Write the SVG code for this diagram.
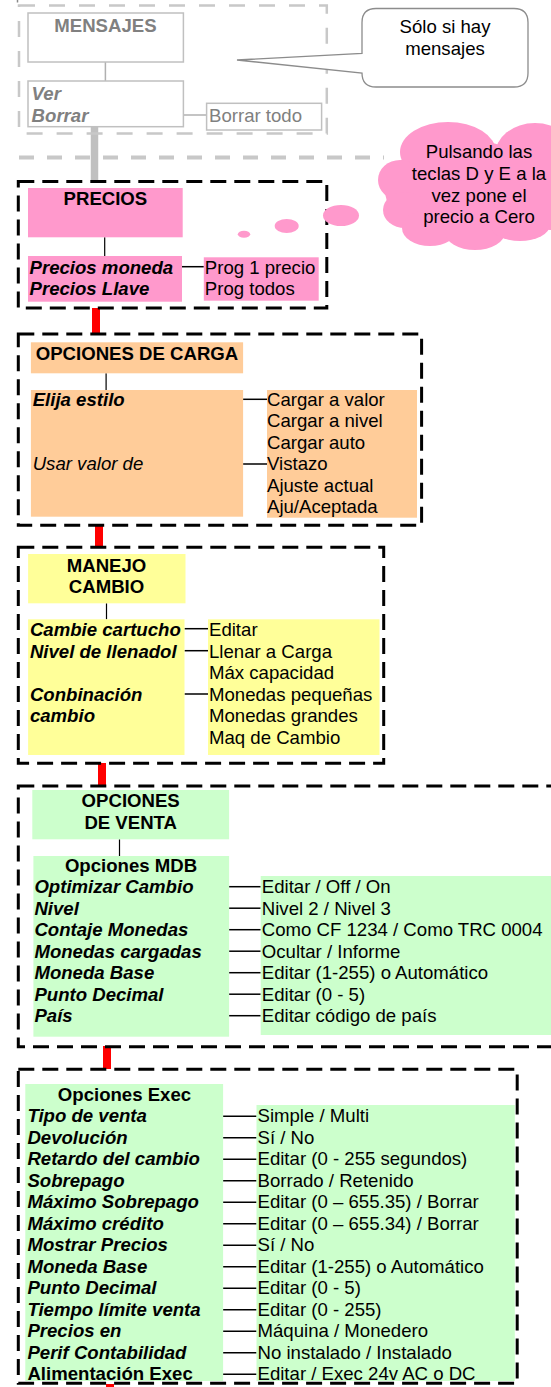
<svg xmlns="http://www.w3.org/2000/svg" width="551" height="1387" viewBox="0 0 551 1387">
<style>
.t{font-family:"Liberation Sans",Arial,sans-serif;font-size:18.6px;fill:#000}
.b{font-weight:bold}
.i{font-style:italic}
.g{fill:#808080}
.c{text-anchor:middle}
.gbox{fill:#fff;stroke:#c0c0c0;stroke-width:1.5}
.gdash{fill:none;stroke:#c8c8c8;stroke-width:2.5;stroke-dasharray:16 14}
.bdash{fill:none;stroke:#000;stroke-width:3;stroke-dasharray:16 8}
.ln{stroke:#000;stroke-width:1.5;fill:none}
.vl{stroke:#000;stroke-width:1.2;fill:none}
.gl{stroke:#b0b0b0;stroke-width:1.5;fill:none}
.red{stroke:#f00;stroke-width:8;fill:none}
.pink{fill:#ff99cc}
.peach{fill:#ffcc99}
.yel{fill:#ffff99}
.grn{fill:#ccffcc}
</style>

<g id="connectors">
  <line x1="17.5" y1="0" x2="17.5" y2="2.5" stroke="#888" stroke-width="1.5"/>
  <line class="gl" x1="105.4" y1="62" x2="105.4" y2="81"/>
  <line class="gl" x1="183.4" y1="115" x2="206.6" y2="115"/>
  <line x1="19" y1="157.5" x2="384" y2="157.5" stroke="#c8c8c8" stroke-width="4" stroke-dasharray="15 13"/>
  <line x1="94.5" y1="124" x2="94.5" y2="181" stroke="#c0c0c0" stroke-width="7.5"/>
  <line class="vl" x1="104.7" y1="237.3" x2="104.7" y2="256"/>
  <line class="ln" x1="182" y1="266.7" x2="203.8" y2="266.7"/>
  <line class="red" x1="96" y1="308" x2="96" y2="334"/>
  <line class="vl" x1="106.1" y1="373.3" x2="106.1" y2="390"/>
  <line class="ln" x1="243.1" y1="399.3" x2="267" y2="399.3"/>
  <line class="ln" x1="243.1" y1="464" x2="267" y2="464"/>
  <line class="red" x1="99" y1="525" x2="99" y2="547"/>
  <line class="vl" x1="106.5" y1="603.3" x2="106.5" y2="619.3"/>
  <line class="ln" x1="184.5" y1="628.7" x2="208" y2="628.7"/>
  <line class="ln" x1="184.5" y1="650.7" x2="208" y2="650.7"/>
  <line class="ln" x1="184.5" y1="694" x2="208" y2="694"/>
  <line class="red" x1="102" y1="763" x2="102" y2="786"/>
  <line class="vl" x1="119.5" y1="839.3" x2="119.5" y2="856"/>
  <line class="ln" x1="229.1" y1="886.7" x2="260.7" y2="886.7"/>
  <line class="ln" x1="229.1" y1="908.2" x2="260.7" y2="908.2"/>
  <line class="ln" x1="229.1" y1="929.7" x2="260.7" y2="929.7"/>
  <line class="ln" x1="229.1" y1="951.2" x2="260.7" y2="951.2"/>
  <line class="ln" x1="229.1" y1="972.7" x2="260.7" y2="972.7"/>
  <line class="ln" x1="229.1" y1="994.2" x2="260.7" y2="994.2"/>
  <line class="ln" x1="229.1" y1="1015.7" x2="260.7" y2="1015.7"/>
  <line class="red" x1="107" y1="1046" x2="107" y2="1069"/>
  <line class="ln" x1="223.1" y1="1116.2" x2="256.5" y2="1116.2"/>
  <line class="ln" x1="223.1" y1="1137.7" x2="256.5" y2="1137.7"/>
  <line class="ln" x1="223.1" y1="1159.2" x2="256.5" y2="1159.2"/>
  <line class="ln" x1="223.1" y1="1180.7" x2="256.5" y2="1180.7"/>
  <line class="ln" x1="223.1" y1="1202.2" x2="256.5" y2="1202.2"/>
  <line class="ln" x1="223.1" y1="1223.7" x2="256.5" y2="1223.7"/>
  <line class="ln" x1="223.1" y1="1245.2" x2="256.5" y2="1245.2"/>
  <line class="ln" x1="223.1" y1="1266.7" x2="256.5" y2="1266.7"/>
  <line class="ln" x1="223.1" y1="1288.2" x2="256.5" y2="1288.2"/>
  <line class="ln" x1="223.1" y1="1309.7" x2="256.5" y2="1309.7"/>
  <line class="ln" x1="223.1" y1="1331.2" x2="256.5" y2="1331.2"/>
  <line class="ln" x1="223.1" y1="1352.7" x2="256.5" y2="1352.7"/>
  <line class="ln" x1="223.1" y1="1374.2" x2="256.5" y2="1374.2"/>
  <line class="red" x1="110" y1="1384" x2="110" y2="1387"/>
</g>

<g id="frames">
  <rect class="gdash" x="19" y="5.5" width="307.8" height="128"/>
  <rect class="bdash" x="18.3" y="181.5" width="308.5" height="126.5"/>
  <rect class="bdash" x="18.3" y="334" width="403.3" height="191.3"/>
  <rect class="bdash" x="18.3" y="547.3" width="365.4" height="216"/>
  <rect class="bdash" x="18.3" y="786" width="545" height="260.7"/>
  <rect class="bdash" x="18.3" y="1069.3" width="498.9" height="314"/>
</g>

<g id="mensajes">
  <rect class="gbox" x="28" y="13" width="155.4" height="49"/>
  <text class="t b g c" x="105.4" y="31.7">MENSAJES</text>
</g>
<g id="ver-borrar">
  <rect class="gbox" x="28" y="81" width="155.4" height="45.7"/>
  <text class="t b i g" x="31.6" y="100">Ver</text>
  <text class="t b i g" x="31.6" y="121.5">Borrar</text>
</g>
<g id="borrar-todo">
  <rect class="gbox" x="206.6" y="103.3" width="115" height="26.7"/>
  <text class="t g" x="209" y="121.7">Borrar todo</text>
</g>
<g id="callout-mensajes">
  <path d="M376 8.5H514Q528 8.5 528 22.5V73Q528 87 514 87H376Q362 87 362 73L237 60L362 53.3V22.5Q362 8.5 376 8.5Z" fill="#fff" stroke="#8c8c8c" stroke-width="1.3"/>
  <text class="t c" x="445" y="33.3">Sólo si hay</text>
  <text class="t c" x="445" y="55">mensajes</text>
</g>

<g id="cloud-precio">
  <g class="pink">
    <ellipse cx="465" cy="190" rx="80" ry="50"/>
    <ellipse cx="448" cy="152" rx="48" ry="30"/>
    <ellipse cx="535" cy="155" rx="40" ry="32"/>
    <ellipse cx="400" cy="180" rx="22" ry="20"/>
    <ellipse cx="405" cy="210" rx="22" ry="18"/>
    <ellipse cx="430" cy="228" rx="28" ry="18"/>
    <ellipse cx="475" cy="232" rx="30" ry="18"/>
    <ellipse cx="520" cy="225" rx="30" ry="16"/>
    <ellipse cx="550" cy="200" rx="25" ry="30"/>
    <ellipse cx="341" cy="215.5" rx="18" ry="10.5"/>
    <ellipse cx="286.7" cy="226" rx="12" ry="7"/>
    <ellipse cx="244" cy="234.3" rx="6.2" ry="3.5"/>
  </g>
  <text class="t c" x="479" y="158">Pulsando las</text>
  <text class="t c" x="479" y="180">teclas D y E a la</text>
  <text class="t c" x="479" y="201.5">vez pone el</text>
  <text class="t c" x="479" y="223">precio a Cero</text>
</g>

<g id="precios">
  <rect class="pink" x="28" y="188" width="154.7" height="49.3"/>
  <text class="t b c" x="105.4" y="205">PRECIOS</text>
</g>
<g id="precios-lista">
  <rect class="pink" x="28" y="256" width="154" height="45.7"/>
  <text class="t b i" x="29.5" y="273.5">Precios moneda</text>
  <text class="t b i" x="29.5" y="295">Precios Llave</text>
</g>
<g id="prog">
  <rect class="pink" x="203.8" y="257.3" width="114.9" height="43.4"/>
  <text class="t" x="204.8" y="273.5">Prog 1 precio</text>
  <text class="t" x="204.8" y="295">Prog todos</text>
</g>

<g id="opciones-carga">
  <rect class="peach" x="30.9" y="342.3" width="212.2" height="31"/>
  <text class="t b c" x="137" y="360">OPCIONES DE CARGA</text>
</g>
<g id="carga-lista">
  <rect class="peach" x="30.9" y="390" width="212.2" height="126.7"/>
  <text class="t b i" x="32.7" y="406">Elija estilo</text>
  <text class="t i" x="32.7" y="470.2">Usar valor de</text>
</g>
<g id="carga-valores">
  <rect class="peach" x="267" y="390" width="150" height="127.7"/>
  <text class="t" x="267" y="406">Cargar a valor</text>
  <text class="t" x="267" y="427.4">Cargar a nivel</text>
  <text class="t" x="267" y="448.8">Cargar auto</text>
  <text class="t" x="267" y="470.2">Vistazo</text>
  <text class="t" x="267" y="491.6">Ajuste actual</text>
  <text class="t" x="267" y="513">Aju/Aceptada</text>
</g>

<g id="manejo-cambio">
  <rect class="yel" x="28.1" y="554" width="157.4" height="49.3"/>
  <text class="t b c" x="106.5" y="571.7">MANEJO</text>
  <text class="t b c" x="106.5" y="593.3">CAMBIO</text>
</g>
<g id="cambio-lista">
  <rect class="yel" x="28.1" y="619.3" width="156.4" height="135.7"/>
  <text class="t b i" x="29.9" y="636">Cambie cartucho</text>
  <text class="t b i" x="29.9" y="657.5">Nivel de llenadol</text>
  <text class="t b i" x="29.9" y="700.5">Conbinación</text>
  <text class="t b i" x="29.9" y="722">cambio</text>
</g>
<g id="cambio-valores">
  <rect class="yel" x="208" y="619.3" width="171.5" height="135.7"/>
  <text class="t" x="209" y="636">Editar</text>
  <text class="t" x="209" y="657.5">Llenar a Carga</text>
  <text class="t" x="209" y="679">Máx capacidad</text>
  <text class="t" x="209" y="700.5">Monedas pequeñas</text>
  <text class="t" x="209" y="722">Monedas grandes</text>
  <text class="t" x="209" y="743.5">Maq de Cambio</text>
</g>

<g id="opciones-venta">
  <rect class="grn" x="32.3" y="790" width="196.8" height="49.3"/>
  <text class="t b c" x="130.7" y="807">OPCIONES</text>
  <text class="t b c" x="130.7" y="828.5">DE VENTA</text>
</g>
<g id="opciones-mdb">
  <rect class="grn" x="33.4" y="856" width="195.7" height="180.7"/>
  <text class="t b c" x="131" y="871.7">Opciones MDB</text>
  <text class="t b i" x="34.4" y="893.2">Optimizar Cambio</text>
  <text class="t b i" x="34.4" y="914.7">Nivel</text>
  <text class="t b i" x="34.4" y="936.2">Contaje Monedas</text>
  <text class="t b i" x="34.4" y="957.7">Monedas cargadas</text>
  <text class="t b i" x="34.4" y="979.2">Moneda Base</text>
  <text class="t b i" x="34.4" y="1000.7">Punto Decimal</text>
  <text class="t b i" x="34.4" y="1022.2">País</text>
</g>
<g id="mdb-valores">
  <rect class="grn" x="260.7" y="876" width="290.3" height="159"/>
  <text class="t" x="261.8" y="893.2">Editar / Off / On</text>
  <text class="t" x="261.8" y="914.7">Nivel 2 / Nivel 3</text>
  <text class="t" x="261.8" y="936.2">Como CF 1234 / Como TRC 0004</text>
  <text class="t" x="261.8" y="957.7">Ocultar / Informe</text>
  <text class="t" x="261.8" y="979.2">Editar (1-255) o Automático</text>
  <text class="t" x="261.8" y="1000.7">Editar (0 - 5)</text>
  <text class="t" x="261.8" y="1022.2">Editar código de país</text>
</g>

<g id="opciones-exec">
  <rect class="grn" x="25.3" y="1084" width="197.8" height="297"/>
  <text class="t b c" x="124.5" y="1100.7">Opciones Exec</text>
  <text class="t b i" x="27.4" y="1122.2">Tipo de venta</text>
  <text class="t b i" x="27.4" y="1143.7">Devolución</text>
  <text class="t b i" x="27.4" y="1165.2">Retardo del cambio</text>
  <text class="t b i" x="27.4" y="1186.7">Sobrepago</text>
  <text class="t b i" x="27.4" y="1208.2">Máximo Sobrepago</text>
  <text class="t b i" x="27.4" y="1229.7">Máximo crédito</text>
  <text class="t b i" x="27.4" y="1251.2">Mostrar Precios</text>
  <text class="t b i" x="27.4" y="1272.7">Moneda Base</text>
  <text class="t b i" x="27.4" y="1294.2">Punto Decimal</text>
  <text class="t b i" x="27.4" y="1315.7">Tiempo límite venta</text>
  <text class="t b i" x="27.4" y="1337.2">Precios en</text>
  <text class="t b i" x="27.4" y="1358.7">Perif Contabilidad</text>
  <text class="t b" x="27.4" y="1380.2">Alimentación Exec</text>
</g>
<g id="exec-valores">
  <rect class="grn" x="256.5" y="1105" width="258.3" height="276"/>
  <text class="t" x="257.5" y="1122.2">Simple / Multi</text>
  <text class="t" x="257.5" y="1143.7">Sí / No</text>
  <text class="t" x="257.5" y="1165.2">Editar (0 - 255 segundos)</text>
  <text class="t" x="257.5" y="1186.7">Borrado / Retenido</text>
  <text class="t" x="257.5" y="1208.2">Editar (0 – 655.35) / Borrar</text>
  <text class="t" x="257.5" y="1229.7">Editar (0 – 655.34) / Borrar</text>
  <text class="t" x="257.5" y="1251.2">Sí / No</text>
  <text class="t" x="257.5" y="1272.7">Editar (1-255) o Automático</text>
  <text class="t" x="257.5" y="1294.2">Editar (0 - 5)</text>
  <text class="t" x="257.5" y="1315.7">Editar (0 - 255)</text>
  <text class="t" x="257.5" y="1337.2">Máquina / Monedero</text>
  <text class="t" x="257.5" y="1358.7">No instalado / Instalado</text>
  <text class="t" x="257.5" y="1380.2">Editar / Exec 24v AC o DC</text>
</g>
</svg>
